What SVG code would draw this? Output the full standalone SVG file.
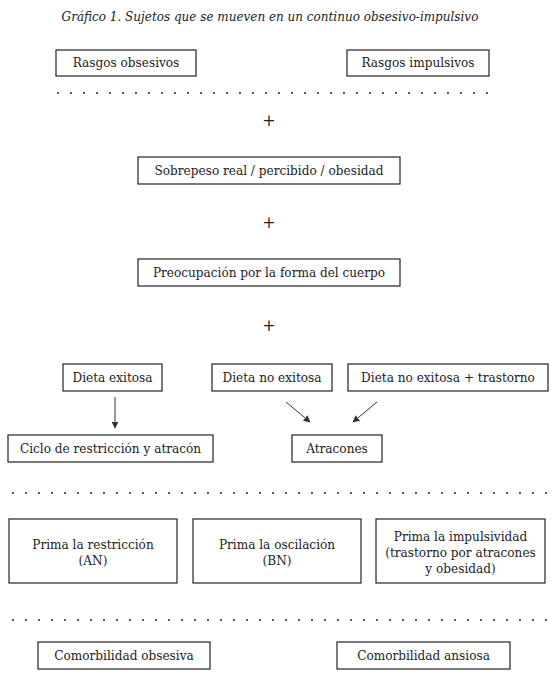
<svg xmlns="http://www.w3.org/2000/svg" width="560" height="680" viewBox="0 0 560 680">
<style>
  .box { fill: #fff; stroke: #222; stroke-width: 1.2; }
  .t { font-family: "DejaVu Serif", "Liberation Serif", serif; font-size: 12.1px; fill: #222; text-anchor: middle; }
  .title { font-family: "DejaVu Serif", "Liberation Serif", serif; font-size: 12px; font-style: italic; fill: #222; text-anchor: middle; }
  .plus { font-family: "DejaVu Serif", "Liberation Serif", serif; font-size: 16px; fill: #222; text-anchor: middle; }
  .dots { stroke: #333; stroke-width: 2.2; stroke-linecap: round; stroke-dasharray: 0 13; fill: none; }
  .arrow { stroke: #333; stroke-width: 1; fill: none; marker-end: url(#ah); }
</style>
<defs>
  <marker id="ah" viewBox="0 0 10 10" refX="9" refY="5" markerWidth="7" markerHeight="7" markerUnits="userSpaceOnUse" orient="auto">
    <path d="M0,0 L10,5 L0,10 z" fill="#333"/>
  </marker>
</defs>
<rect width="560" height="680" fill="#fff"/>
<text class="title" x="270" y="21">Gráfico 1. Sujetos que se mueven en un continuo obsesivo-impulsivo</text>

<g id="rasgos-obsesivos"><rect class="box" x="56" y="50" width="140" height="26"/><text class="t" x="126" y="67">Rasgos obsesivos</text></g>
<g id="rasgos-impulsivos"><rect class="box" x="347" y="50" width="142" height="26"/><text class="t" x="418" y="67">Rasgos impulsivos</text></g>

<line class="dots" x1="58" y1="93" x2="490" y2="93"/>
<text class="plus" x="269" y="126">+</text>

<g id="sobrepeso"><rect class="box" x="138" y="157" width="262" height="27"/><text class="t" x="269" y="175">Sobrepeso real / percibido / obesidad</text></g>
<text class="plus" x="269" y="228">+</text>
<g id="preocupacion"><rect class="box" x="138" y="259" width="262" height="27"/><text class="t" x="269" y="277">Preocupación por la forma del cuerpo</text></g>
<text class="plus" x="269" y="331">+</text>

<g id="dieta-exitosa"><rect class="box" x="63" y="364" width="99" height="27"/><text class="t" x="112.5" y="382">Dieta exitosa</text></g>
<g id="dieta-no-exitosa"><rect class="box" x="212" y="364" width="120" height="27"/><text class="t" x="272" y="382">Dieta no exitosa</text></g>
<g id="dieta-no-exitosa-trastorno"><rect class="box" x="348" y="364" width="200" height="27"/><text class="t" x="448" y="382">Dieta no exitosa + trastorno</text></g>

<g id="connectors">
  <line class="arrow" x1="115" y1="397" x2="115" y2="428"/>
  <line class="arrow" x1="286" y1="402" x2="310" y2="422"/>
  <line class="arrow" x1="377" y1="402" x2="353" y2="422"/>
</g>

<g id="ciclo"><rect class="box" x="8" y="435" width="205" height="27"/><text class="t" x="110.5" y="453">Ciclo de restricción y atracón</text></g>
<g id="atracones"><rect class="box" x="292" y="435" width="90" height="27"/><text class="t" x="337" y="453">Atracones</text></g>

<line class="dots" x1="13" y1="493" x2="547" y2="493"/>

<g id="prima-restriccion"><rect class="box" x="9" y="519" width="168" height="64"/><text class="t" x="93" y="549">Prima la restricción</text><text class="t" x="93" y="565">(AN)</text></g>
<g id="prima-oscilacion"><rect class="box" x="193" y="519" width="168" height="64"/><text class="t" x="277" y="549">Prima la oscilación</text><text class="t" x="277" y="565">(BN)</text></g>
<g id="prima-impulsividad"><rect class="box" x="376" y="519" width="169" height="64"/><text class="t" x="460.5" y="541">Prima la impulsividad</text><text class="t" x="460.5" y="557">(trastorno por atracones</text><text class="t" x="460.5" y="573">y obesidad)</text></g>

<line class="dots" x1="13" y1="620" x2="547" y2="620"/>

<g id="comorbilidad-obsesiva"><rect class="box" x="38" y="642" width="172" height="27"/><text class="t" x="124" y="660">Comorbilidad obsesiva</text></g>
<g id="comorbilidad-ansiosa"><rect class="box" x="337" y="642" width="173" height="27"/><text class="t" x="423.5" y="660">Comorbilidad ansiosa</text></g>
</svg>
